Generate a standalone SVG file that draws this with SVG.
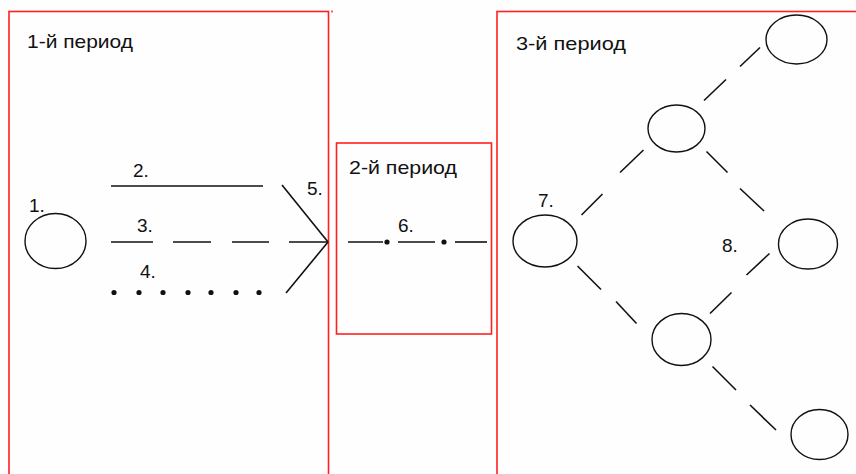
<svg xmlns="http://www.w3.org/2000/svg" width="856" height="474" viewBox="0 0 856 474">
<style>
.box{fill:none;stroke:#ff2020;stroke-width:1.6}
.node{fill:none;stroke:#111;stroke-width:1.4}
.lbl{font-family:"Liberation Sans",Arial,sans-serif;font-size:19px;fill:#111}
.solid{stroke:#111;stroke-width:1.6;fill:none}
.dash{stroke:#111;stroke-width:1.5;fill:none;stroke-dasharray:40 20}
.dot{fill:#111}
</style>
<rect width="856" height="474" fill="#fefefe"/>
<g id="period1">
<rect class="box" x="9" y="11.5" width="319.5" height="480"/>
<text class="lbl" x="27" y="47.5" textLength="106" lengthAdjust="spacingAndGlyphs">1-й период</text>
</g>
<rect x="331" y="10.5" width="2" height="2" fill="#ff6060"/>
<g id="period2">
<rect class="box" x="336.5" y="143" width="155" height="191"/>
<text class="lbl" x="349" y="173.5" textLength="108" lengthAdjust="spacingAndGlyphs">2-й период</text>
</g>
<g id="period3">
<rect class="box" x="497" y="11.5" width="380" height="480"/>
<text class="lbl" x="516" y="50" textLength="110" lengthAdjust="spacingAndGlyphs">3-й период</text>
</g>
<g id="node1">
<ellipse class="node" cx="55.5" cy="241" rx="30.5" ry="27.5"/>
<text class="lbl" x="29" y="212">1.</text>
</g>
<g id="node7">
<ellipse class="node" cx="545" cy="241" rx="32" ry="26"/>
<text class="lbl" x="538" y="207">7.</text>
</g>
<g id="node-upper">
<ellipse class="node" cx="676.5" cy="128.5" rx="28.5" ry="23.5"/>
</g>
<g id="node-top">
<ellipse class="node" cx="796.5" cy="39.5" rx="30.5" ry="24.5"/>
</g>
<g id="node8">
<ellipse class="node" cx="808" cy="244" rx="29.5" ry="25"/>
<text class="lbl" x="722" y="252">8.</text>
</g>
<g id="node-lower">
<ellipse class="node" cx="681.5" cy="339.5" rx="29.5" ry="26"/>
</g>
<g id="node-bottom">
<ellipse class="node" cx="819.5" cy="434.5" rx="28.5" ry="25"/>
</g>
<g id="connectors">
<line class="solid" x1="111" y1="186" x2="263" y2="186"/>
<text class="lbl" x="133" y="177">2.</text>
<line class="solid" x1="111" y1="242" x2="153" y2="242"/>
<line class="solid" x1="173" y1="242" x2="211" y2="242"/>
<line class="solid" x1="232" y1="242" x2="269" y2="242"/>
<line class="solid" x1="289" y1="242" x2="328" y2="242"/>
<text class="lbl" x="137" y="232">3.</text>
<g class="dot">
<circle cx="114" cy="292.5" r="2.6"/><circle cx="139" cy="292.5" r="2.6"/><circle cx="163" cy="292.5" r="2.6"/><circle cx="188" cy="292.5" r="2.6"/><circle cx="211" cy="292.5" r="2.6"/><circle cx="236" cy="292.5" r="2.6"/><circle cx="259" cy="292.5" r="2.6"/>
</g>
<text class="lbl" x="140" y="278">4.</text>
<line class="solid" x1="282" y1="185" x2="328" y2="242"/>
<line class="solid" x1="286" y1="293" x2="328" y2="242"/>
<text class="lbl" x="307" y="195">5.</text>
<line class="solid" x1="348" y1="242" x2="383" y2="242"/>
<circle class="dot" cx="387" cy="242" r="2.6"/>
<line class="solid" x1="398" y1="242" x2="435" y2="242"/>
<circle class="dot" cx="444" cy="242" r="2.6"/>
<line class="solid" x1="455" y1="242" x2="487" y2="242"/>
<text class="lbl" x="398" y="232">6.</text>
<line class="solid" x1="581.5" y1="215" x2="602.5" y2="194"/>
<line class="solid" x1="620" y1="172.5" x2="643.5" y2="150"/>
<line class="solid" x1="704" y1="100.5" x2="726" y2="79.5"/>
<line class="solid" x1="740" y1="66.5" x2="760" y2="47.5"/>
<line class="solid" x1="706.5" y1="151.5" x2="727.5" y2="172.5"/>
<line class="solid" x1="740" y1="188.5" x2="764" y2="211"/>
<line class="solid" x1="577.5" y1="266" x2="601" y2="289.5"/>
<line class="solid" x1="616" y1="301.5" x2="636.5" y2="323.5"/>
<line class="solid" x1="710" y1="313.5" x2="731.5" y2="292.5"/>
<line class="solid" x1="746.5" y1="275" x2="769.5" y2="253.5"/>
<line class="solid" x1="712.5" y1="366.5" x2="736" y2="390"/>
<line class="solid" x1="750" y1="405" x2="776" y2="430"/>
</g>
</svg>
